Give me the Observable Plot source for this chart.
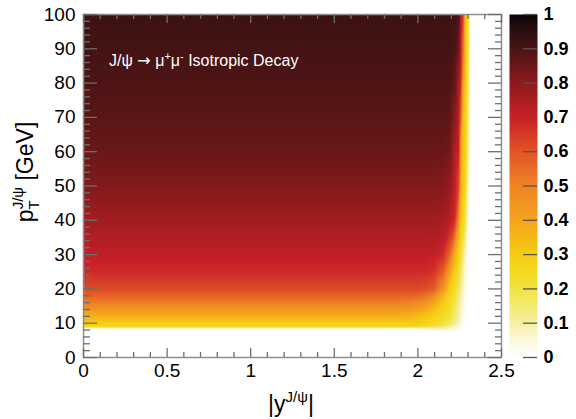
<!DOCTYPE html>
<html><head><meta charset="utf-8">
<script src="https://cdn.jsdelivr.net/npm/d3@7"></script>
<script src="https://cdn.jsdelivr.net/npm/@observablehq/plot@0.6"></script>
<style>
html,body{margin:0;padding:0;background:#fff;}
#wrap{position:relative;width:576px;height:419px;overflow:hidden;font-family:"Liberation Sans",Arial,Helvetica,sans-serif;}
#wrap svg{position:absolute;top:0;}
</style></head><body><div id="wrap"></div>
<script>
// |y| sample columns and pT sample rows
const rapidityCols = [0, 1.85, 1.95, 2.0, 2.05, 2.1, 2.15, 2.19, 2.22, 2.245, 2.255, 2.27, 2.285, 2.3, 2.315, 2.5];
const ptRows = [0, 7.5, 8.3, 9, 10, 12, 14, 16, 18, 20, 25, 30, 40, 50, 60, 70, 80, 90, 100];
// acceptance values, one row per pT sample, one entry per |y| sample
const acceptance = [
  [0,0,0,0,0,0,0,0,0,0,0,0,0,0,0,0],
  [0,0,0,0,0,0,0,0,0,0,0,0,0,0,0,0],
  [0,0,0,0,0.03,0.06,0.07,0.06,0.04,0.02,0.01,0,0,0,0,0],
  [0.26,0.26,0.26,0.25,0.23,0.20,0.16,0.12,0.08,0.04,0.03,0.01,0,0,0,0],
  [0.30,0.30,0.30,0.29,0.27,0.25,0.22,0.17,0.12,0.07,0.05,0.02,0,0,0,0],
  [0.37,0.37,0.36,0.34,0.31,0.28,0.25,0.21,0.15,0.10,0.07,0.03,0.01,0,0,0],
  [0.44,0.44,0.43,0.41,0.38,0.33,0.28,0.23,0.17,0.11,0.08,0.04,0.01,0,0,0],
  [0.51,0.51,0.50,0.48,0.45,0.39,0.31,0.25,0.19,0.12,0.09,0.05,0.02,0,0,0],
  [0.57,0.57,0.57,0.56,0.53,0.47,0.36,0.27,0.21,0.14,0.11,0.06,0.02,0,0,0],
  [0.62,0.62,0.62,0.62,0.61,0.58,0.45,0.30,0.24,0.17,0.13,0.07,0.03,0,0,0],
  [0.68,0.68,0.68,0.68,0.68,0.66,0.58,0.42,0.30,0.22,0.17,0.10,0.04,0.01,0,0],
  [0.715,0.715,0.715,0.715,0.715,0.71,0.68,0.56,0.38,0.28,0.24,0.15,0.06,0.01,0,0],
  [0.765,0.765,0.765,0.765,0.765,0.765,0.76,0.73,0.68,0.45,0.32,0.27,0.18,0.04,0,0],
  [0.815,0.815,0.815,0.815,0.815,0.815,0.81,0.78,0.72,0.62,0.40,0.31,0.26,0.08,0,0],
  [0.85,0.85,0.85,0.85,0.85,0.85,0.85,0.84,0.74,0.70,0.45,0.32,0.28,0.12,0,0],
  [0.875,0.875,0.875,0.875,0.875,0.875,0.875,0.87,0.80,0.72,0.60,0.33,0.29,0.15,0,0],
  [0.895,0.895,0.895,0.895,0.895,0.895,0.895,0.895,0.86,0.75,0.70,0.40,0.30,0.18,0,0],
  [0.91,0.91,0.91,0.91,0.91,0.91,0.91,0.91,0.90,0.84,0.72,0.55,0.31,0.22,0,0],
  [0.92,0.92,0.92,0.92,0.92,0.92,0.92,0.92,0.92,0.90,0.74,0.66,0.32,0.25,0,0]
];
// axis ticks and labels
const xMajorTicks = [0, 0.5, 1, 1.5, 2, 2.5];
const xTickLabels = ["0", "0.5", "1", "1.5", "2", "2.5"];
const yMajorTicks = [0, 10, 20, 30, 40, 50, 60, 70, 80, 90, 100];
const yTickLabels = ["0","10","20","30","40","50","60","70","80","90","100"];
const colorbarTicks = [0, 0.1, 0.2, 0.3, 0.4, 0.5, 0.6, 0.7, 0.8, 0.9, 1];
const colorbarLabels = ["0","0.1","0.2","0.3","0.4","0.5","0.6","0.7","0.8","0.9","1"];
// colour palette stops
const paletteStops = [0, 0.05, 0.1, 0.15, 0.2, 0.25, 0.3, 0.35, 0.4, 0.45, 0.5, 0.55, 0.6, 0.65, 0.7, 0.75, 0.8, 0.85, 0.9, 0.95, 1];
const paletteColors = ["#ffffff","#fbf8dc","#f6f0a4","#f3ea70","#f1e342","#f4da20","#f6cc12","#f5b818","#f3a41e","#f19422","#ee8424","#e96c26","#e25426","#d63a27","#c82127","#ab1e22","#8c1a1c","#6a1718","#4a1414","#2c0f0f","#0a0505"];

const FONT = '"Liberation Sans", Arial, Helvetica, sans-serif';
const ramp = d3.scaleLinear().domain(paletteStops).range(paletteColors).interpolate(d3.interpolateRgb).clamp(true);
const colorScale = {type: "linear", domain: [0, 1], interpolate: (t) => ramp(t)};

const cells = ptRows.flatMap((pt, i) => rapidityCols.map((rap, j) => ({rap, pt, acc: acceptance[i][j]})));

const xMinor = d3.range(0, 25.5, 1).map(d => d / 10).filter(d => !xMajorTicks.includes(d));
const yMinor = d3.range(0, 101, 2).filter(d => !yMajorTicks.includes(d));

const W = 576, H = 419, ML = 83, MR = 75, MT = 14, MB = 62;
const FW = W - ML - MR, FH = H - MT - MB;
const tickColor = "#6e6e6e";

const main = Plot.plot({
  width: W, height: H,
  marginLeft: ML, marginRight: MR, marginTop: MT, marginBottom: MB,
  style: {fontFamily: FONT, background: "transparent", color: "#000", overflow: "visible"},
  x: {domain: [0, 2.5], label: null},
  y: {domain: [0, 100], label: null},
  color: colorScale,
  marks: [
    Plot.raster(cells, {x: "rap", y: "pt", fill: "acc", interpolate: "barycentric", pixelSize: 1, x1: 0, x2: 2.5, y1: 0, y2: 100}),
    Plot.frame({stroke: "#8f8f8f", strokeWidth: 1.5}),
    // inward ticks, bottom and top
    Plot.ruleX(xMajorTicks, {x: d => d, insetTop: FH - 9, stroke: tickColor, strokeWidth: 1.3}),
    Plot.ruleX(xMinor, {x: d => d, insetTop: FH - 5, stroke: tickColor, strokeWidth: 1.3}),
    Plot.ruleX(xMajorTicks, {x: d => d, insetBottom: FH - 9, stroke: tickColor, strokeWidth: 1.3}),
    Plot.ruleX(xMinor, {x: d => d, insetBottom: FH - 5, stroke: tickColor, strokeWidth: 1.3}),
    // inward ticks, left and right
    Plot.ruleY(yMajorTicks, {y: d => d, insetRight: FW - 14, stroke: tickColor, strokeWidth: 1.3}),
    Plot.ruleY(yMinor, {y: d => d, insetRight: FW - 7, stroke: tickColor, strokeWidth: 1.3}),
    Plot.ruleY(yMajorTicks, {y: d => d, insetLeft: FW - 13, stroke: tickColor, strokeWidth: 1.3}),
    Plot.ruleY(yMinor, {y: d => d, insetLeft: FW - 6, stroke: tickColor, strokeWidth: 1.3}),
    Plot.axisX(xMajorTicks, {anchor: "bottom", tickSize: 0, tickPadding: 6, fontSize: 19, label: null, tickFormat: (d) => xTickLabels[xMajorTicks.indexOf(d)]}),
    Plot.axisY(yMajorTicks, {anchor: "left", tickSize: 0, tickPadding: 8, fontSize: 19, label: null, tickFormat: (d) => yTickLabels[yMajorTicks.indexOf(d)]})
  ]
});

const bar = Plot.plot({
  width: 67, height: H,
  marginLeft: 0, marginRight: 39, marginTop: MT, marginBottom: MB,
  style: {fontFamily: FONT, background: "transparent", color: "#000", overflow: "visible"},
  x: {domain: [0, 1], axis: null, label: null},
  y: {domain: [0, 1], label: null},
  color: colorScale,
  marks: [
    Plot.raster({fill: (x, y) => y, x1: 0, x2: 1, y1: 0, y2: 1, pixelSize: 1}),
    Plot.ruleY(colorbarTicks, {y: d => d, x1: 0.5, x2: 1, stroke: "#555", strokeWidth: 1.3}),
    Plot.axisY(colorbarTicks, {anchor: "right", tickSize: 0, tickPadding: 6, fontSize: 18, fontWeight: "bold", label: null, tickFormat: (d) => colorbarLabels[colorbarTicks.indexOf(d)]})
  ]
});

const wrap = document.getElementById("wrap");
main.style.left = "0px";
bar.style.left = "509px";
wrap.appendChild(main);
wrap.appendChild(bar);

const svg = d3.select(main);
// x title
const xt = svg.append("text").attr("x", 291).attr("y", 412).attr("text-anchor", "middle")
  .attr("font-family", FONT).attr("font-size", 23).attr("fill", "#000");
xt.append("tspan").text("|y");
xt.append("tspan").attr("font-size", 15).attr("dy", -10).text("J/ψ");
xt.append("tspan").attr("dy", 10).text("|");
// y title
const yt = svg.append("text").attr("transform", "translate(33,172) rotate(-90)").attr("text-anchor", "middle")
  .attr("font-family", FONT).attr("font-size", 23).attr("fill", "#000");
yt.append("tspan").text("p");
yt.append("tspan").attr("font-size", 15).attr("dy", 6).text("T");
yt.append("tspan").attr("font-size", 15).attr("dx", -9).attr("dy", -16).text("J/ψ");
yt.append("tspan").attr("dy", 10).text(" [GeV]");
// annotation
const an = svg.append("text").attr("x", 109).attr("y", 66).attr("text-anchor", "start")
  .attr("font-family", FONT).attr("font-size", 16).attr("fill", "#fff");
an.append("tspan").text("J/ψ ");
an.append("tspan").attr("font-family", '"DejaVu Sans", sans-serif').attr("font-size", 16).text("→");
an.append("tspan").text(" μ");
an.append("tspan").attr("font-size", 11).attr("dy", -6).text("+");
an.append("tspan").attr("dy", 6).text("μ");
an.append("tspan").attr("font-size", 11).attr("dy", -6).text("-");
an.append("tspan").attr("dy", 6).text(" Isotropic Decay");
</script></body></html>
